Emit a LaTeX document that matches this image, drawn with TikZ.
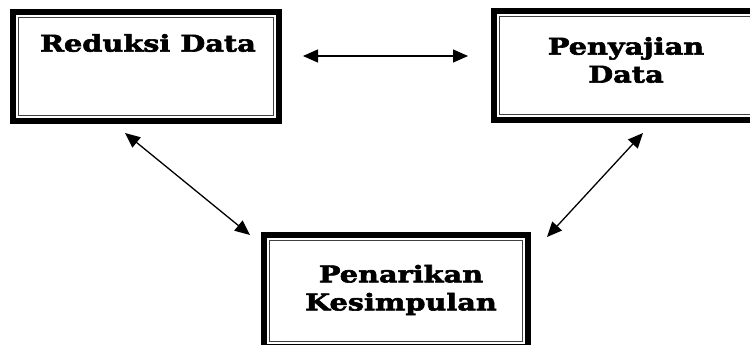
\documentclass[tikz,border=0pt]{standalone}
\usepackage{fontspec}
\usetikzlibrary{arrows.meta}
\newfontfamily\boxfont{DejaVu Serif}[FakeStretch=1.25, BoldFeatures={FakeBold=2.6}]
\tikzset{
  frame/.style={draw=black, line width=6pt, rectangle, outer sep=0pt, inner sep=0pt, fill=white},
  inframe/.style={draw=black!75, line width=1.2pt},
  label text/.style={font=\boxfont\bfseries\fontsize{23}{28}\selectfont, align=center, inner sep=0pt},
  arr/.style={line width=1.3pt, {Triangle[length=15pt,width=13pt]}-{Triangle[length=15pt,width=13pt]}}
}
\begin{document}
\begin{tikzpicture}[x=1pt,y=-1pt]
\useasboundingbox (0,0) rectangle (750,345);
\clip (0,0) rectangle (750,345);
\node[frame, minimum width=266pt, minimum height=109pt] (b1) at (146,66.5) {};
\node[frame, minimum width=265pt, minimum height=109pt] (b2) at (626.5,65.5) {};
\node[frame, minimum width=264pt, minimum height=112pt] (b3) at (396,291) {};
\foreach \b in {b1,b2,b3}{
  \draw[inframe] ([xshift=5.4pt,yshift=-5.4pt]\b.north west) rectangle ([xshift=-5.4pt,yshift=5.4pt]\b.south east);
}
\node[label text] (t1) at (148,43) {Reduksi Data};
\node[label text] (t2) at (626,60) {Penyajian\\Data};
\node[label text] (t3) at (401,290) {Penarikan\\Kesimpulan};
\draw[arr] ([xshift=24pt,yshift=-44pt]b1.north east) -- ([xshift=-26pt,yshift=-45pt]b2.north west);
\draw[arr] ([xshift=112pt,yshift=-12pt]b1.south west) -- ([xshift=-14pt,yshift=0pt]b3.north west);
\draw[arr] ([xshift=149pt,yshift=-13pt]b2.south west) -- ([xshift=19pt,yshift=-2pt]b3.north east);
\end{tikzpicture}
\end{document}
